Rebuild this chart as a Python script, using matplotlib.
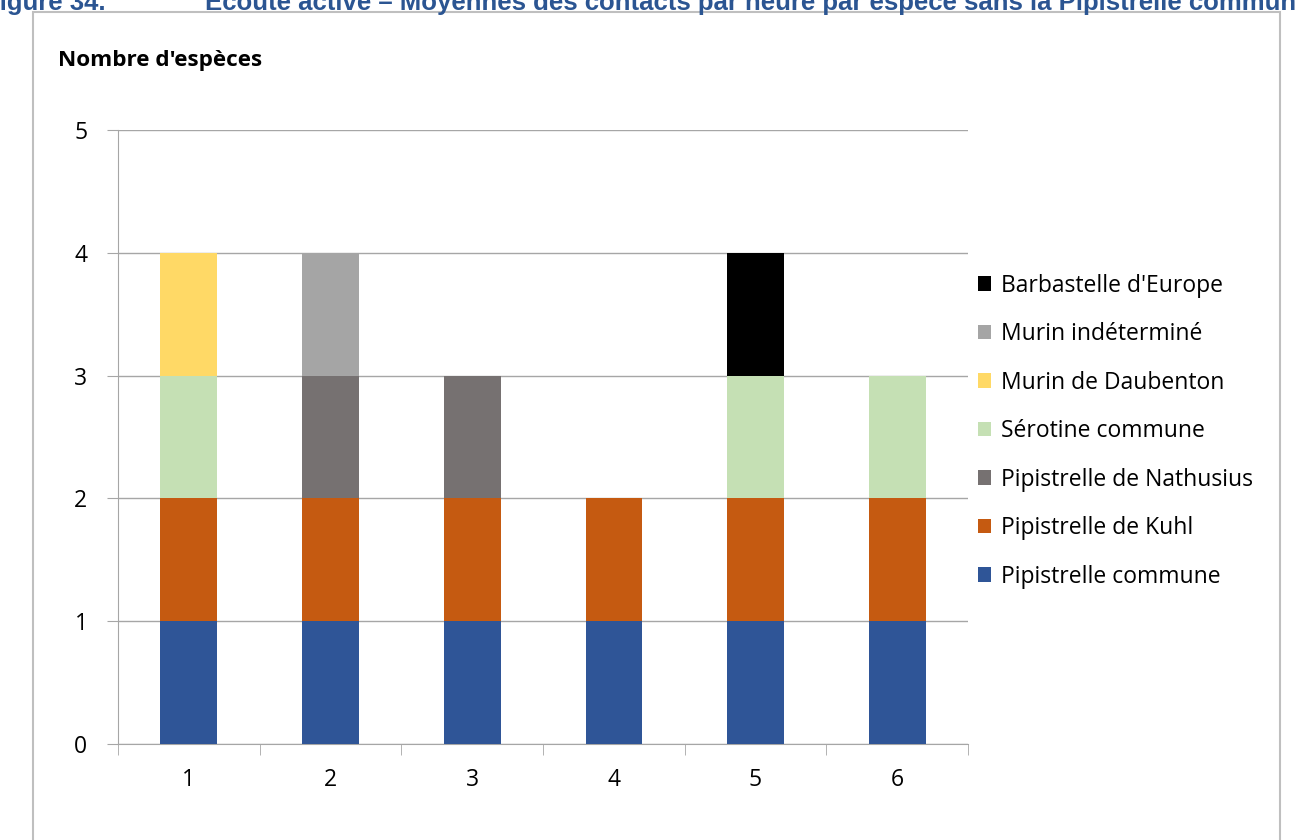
import matplotlib.pyplot as plt
import numpy as np
from matplotlib.patches import Rectangle

categories = ['1', '2', '3', '4', '5', '6']
species = ['Pipistrelle commune', 'Pipistrelle de Kuhl', 'Pipistrelle de Nathusius',
           'Sérotine commune', 'Murin de Daubenton', 'Murin indéterminé',
           "Barbastelle d'Europe"]
pip_commune = [1, 1, 1, 1, 1, 1]
pip_kuhl = [1, 1, 1, 1, 1, 1]
pip_nathusius = [0, 1, 1, 0, 0, 0]
serotine = [1, 0, 0, 0, 1, 1]
murin_daubenton = [1, 0, 0, 0, 0, 0]
murin_indet = [0, 1, 0, 0, 0, 0]
barbastelle = [0, 0, 0, 0, 1, 0]
series = [pip_commune, pip_kuhl, pip_nathusius, serotine,
          murin_daubenton, murin_indet, barbastelle]
colors = ['#2F5597', '#C55A11', '#767171', '#C5E0B4', '#FFD966', '#A5A5A5', '#000000']

plt.rcParams['font.family'] = ['Open Sans', 'DejaVu Sans']

W, H = 1297, 840
fig = plt.figure(figsize=(W / 100, H / 100), dpi=100)
# outer chart frame
fig.patches.append(Rectangle((33 / W, -0.05), (1280 - 33) / W, (H - 12) / H + 0.05,
                             transform=fig.transFigure, fill=False,
                             edgecolor='#BFBFBF', linewidth=1.5))

ax = fig.add_axes([118 / W, 1 - 744 / H, (968 - 118) / W, (744 - 130) / H])
x = np.arange(len(categories))
bottom = np.zeros(len(categories))
for name, vals, c in zip(species, series, colors):
    ax.bar(x, vals, 0.4, bottom=bottom, color=c, label=name, zorder=3)
    bottom += np.array(vals)

ax.set_xlim(-0.5, len(categories) - 0.5)
ax.set_ylim(0, 5)
ax.set_yticks(range(6))
ax.yaxis.grid(True, color='#A6A6A6', linewidth=1, zorder=0)
ax.set_xticks(x)
ax.set_xticklabels(categories)
ax.set_xticks(np.arange(-0.5, len(categories)), minor=True)
ax.tick_params(axis='x', which='major', length=0, pad=17, labelsize=16.5)
ax.tick_params(axis='x', which='minor', length=8, color='#A6A6A6', direction='out')
ax.tick_params(axis='y', length=8, color='#A6A6A6', labelsize=16.5, pad=14)
for s in ['top', 'right']:
    ax.spines[s].set_visible(False)
for s in ['left', 'bottom']:
    ax.spines[s].set_color('#A6A6A6')

fig.text(58 / W, 1 - 66 / H, "Nombre d'espèces", fontsize=16.2, fontweight='bold')

h, l = ax.get_legend_handles_labels()
ax.legend(h[::-1], l[::-1], loc='upper left', bbox_to_anchor=(957 / W, 1 - 253 / H),
          bbox_transform=fig.transFigure, frameon=False, fontsize=16.5,
          handlelength=0.6, handleheight=0.6, handletextpad=0.4, labelspacing=1.07)

tcol = '#2B5592'
fig.text(-16 / W, 1 - 10 / H, 'Figure 34.', fontsize=18.5, fontweight='bold', color=tcol,
         family='Liberation Sans')
fig.text(205 / W, 1 - 10 / H,
         'Écoute active – Moyennes des contacts par heure par espèce sans la Pipistrelle commune',
         fontsize=18.5, fontweight='bold', color=tcol, family='Liberation Sans')

fig.savefig('out.png', dpi=100)
